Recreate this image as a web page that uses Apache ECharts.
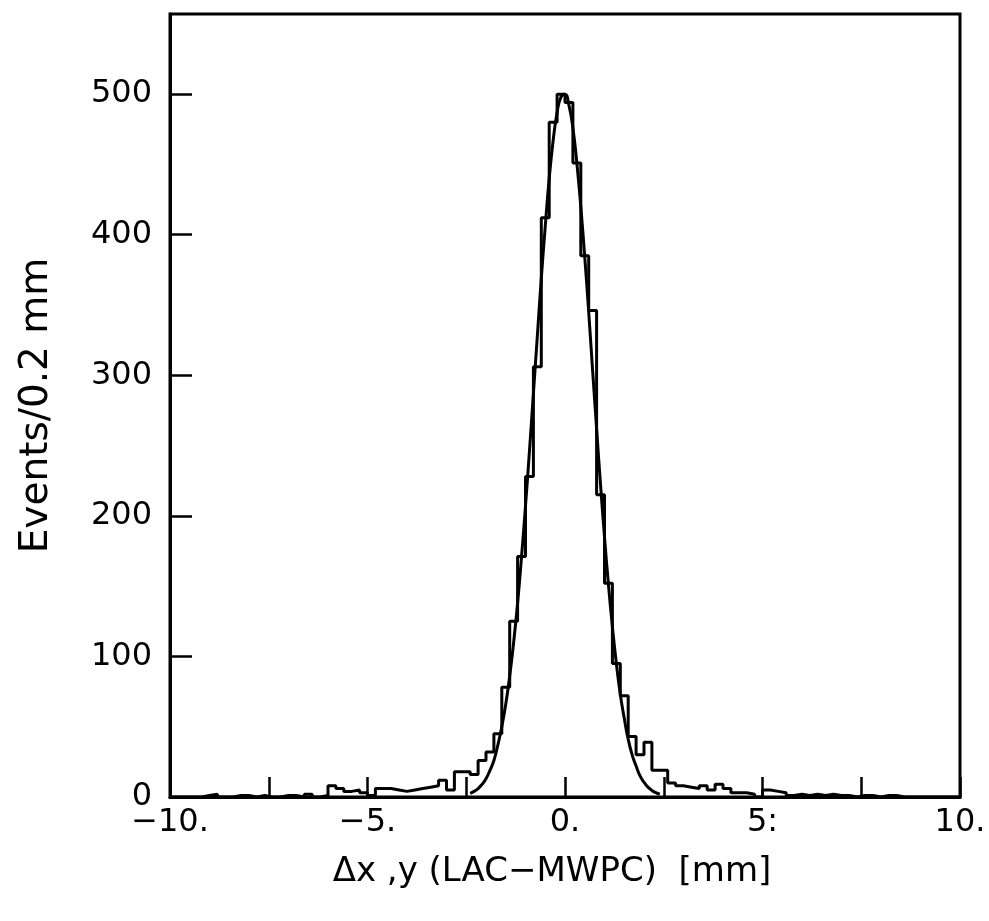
<!DOCTYPE html>
<html>
<head>
<meta charset="utf-8">
<script src="https://cdn.jsdelivr.net/npm/echarts@6/dist/echarts.min.js"></script>
<style>
html,body{margin:0;padding:0;background:#fff;}
#chart{width:989px;height:921px;}
</style>
</head>
<body>
<div id="chart"></div>
<script>
// Histogram: bins of 0.2 mm from -10 to 10 (events per bin)
const binStart = -10;
const binWidth = 0.2;
const counts = [
  0,0,0,0,1,2,0,0,1,1,
  0,1,0,0,1,1,0,2,0,1,
  8,6,4,5,3,1,6,6,5,4,
  5,6,7,8,12,5,18,18,16,26,
  32,45,78,125,171,228,306,412,480,500,
  494,451,385,346,215,152,95,72,43,30,
  39,19,19,10,8,7,6,8,5,9,
  6,3,3,2,0,5,4,3,1,2,
  1,2,1,2,1,1,0,1,1,0,
  1,1,0,0,0,0,0,0,0,0
];

// Fitted curve
const fitX = [-2.4,-2.3,-2.2,-2.1,-2.0,-1.9,-1.8,-1.7,-1.6,-1.5,-1.4,-1.3,-1.2,-1.1,-1.0,-0.9,-0.8,-0.7,-0.6,-0.5,-0.4,-0.3,-0.2,-0.1,0,
  0.1,0.2,0.3,0.4,0.5,0.6,0.7,0.8,0.9,1.0,1.1,1.2,1.3,1.4,1.5,1.6,1.7,1.8,1.9,2.0,2.1,2.2,2.3,2.4];
const fitY = [2.6,4,6,9,13,19,26,37,50,66,86,110,138,171,207,246,287,328,369,406,440,467,487,498,500,
  492,476,451,420,384,345,303,262,222,185,151,121,95,73,56,41,30,22,15,10.5,7,4.7,3.1,2];

// Tick labels
const xTickValues = [-10, -5, 0, 5, 10];
const xTickLabels = ["\u221210.", "\u22125.", "0.", "5:", "10."];
const yTickValues = [0, 100, 200, 300, 400, 500];
const yTickLabels = ["0", "100", "200", "300", "400", "500"];

const xName = "\u0394x ,y (LAC\u2212MWPC)  [mm]";
const yName = "Events/0.2 mm";

const histData = counts.map((c, i) => [binStart + binWidth * i, c]);
histData.push([binStart + binWidth * counts.length, counts[counts.length - 1]]);
const fitData = fitX.map((x, i) => [x, fitY[i]]);

const FONT = "DejaVu Sans";
const chart = echarts.init(document.getElementById('chart'), null, {renderer: 'canvas'});
chart.setOption({
  backgroundColor: '#fff',
  animation: false,
  grid: {left: 170, right: 29, top: 14, bottom: 124, show: true, borderColor: '#000', borderWidth: 3, backgroundColor: 'transparent'},
  xAxis: {
    type: 'value', min: -10, max: 10, interval: 2.5,
    axisLine: {show: true, onZero: false, lineStyle: {color: '#000', width: 3}},
    axisTick: {show: true, inside: true, length: 20, lineStyle: {color: '#000', width: 2.5}},
    splitLine: {show: false},
    axisLabel: {
      margin: 10, color: '#000', fontFamily: FONT, fontSize: 32,
      formatter: function (v) {
        for (let i = 0; i < xTickValues.length; i++) if (Math.abs(v - xTickValues[i]) < 1e-9) return xTickLabels[i];
        return '';
      }
    },
    name: xName, nameLocation: 'middle', nameGap: 58,
    nameTextStyle: {color: '#000', fontFamily: FONT, fontSize: 34, padding: [0, 26, 0, 0]}
  },
  yAxis: {
    type: 'value', min: 0, max: 557, interval: 100,
    axisLine: {show: true, onZero: false, lineStyle: {color: '#000', width: 3}},
    axisTick: {show: true, inside: true, length: 22, lineStyle: {color: '#000', width: 2.5}},
    splitLine: {show: false},
    axisLabel: {
      margin: 18, color: '#000', fontFamily: FONT, fontSize: 32, showMaxLabel: false,
      formatter: function (v) {
        for (let i = 0; i < yTickValues.length; i++) if (Math.abs(v - yTickValues[i]) < 1e-9) return yTickLabels[i];
        return '';
      }
    },
    name: yName, nameLocation: 'middle', nameGap: 114, nameRotate: 90,
    nameTextStyle: {color: '#000', fontFamily: FONT, fontSize: 39}
  },
  series: [
    {
      type: 'line', step: 'end', data: histData, symbol: 'none',
      lineStyle: {color: '#000', width: 3}, z: 3
    },
    {
      type: 'line', smooth: true, data: fitData, symbol: 'none',
      lineStyle: {color: '#000', width: 3}, z: 4
    }
  ]
});
</script>
</body>
</html>
